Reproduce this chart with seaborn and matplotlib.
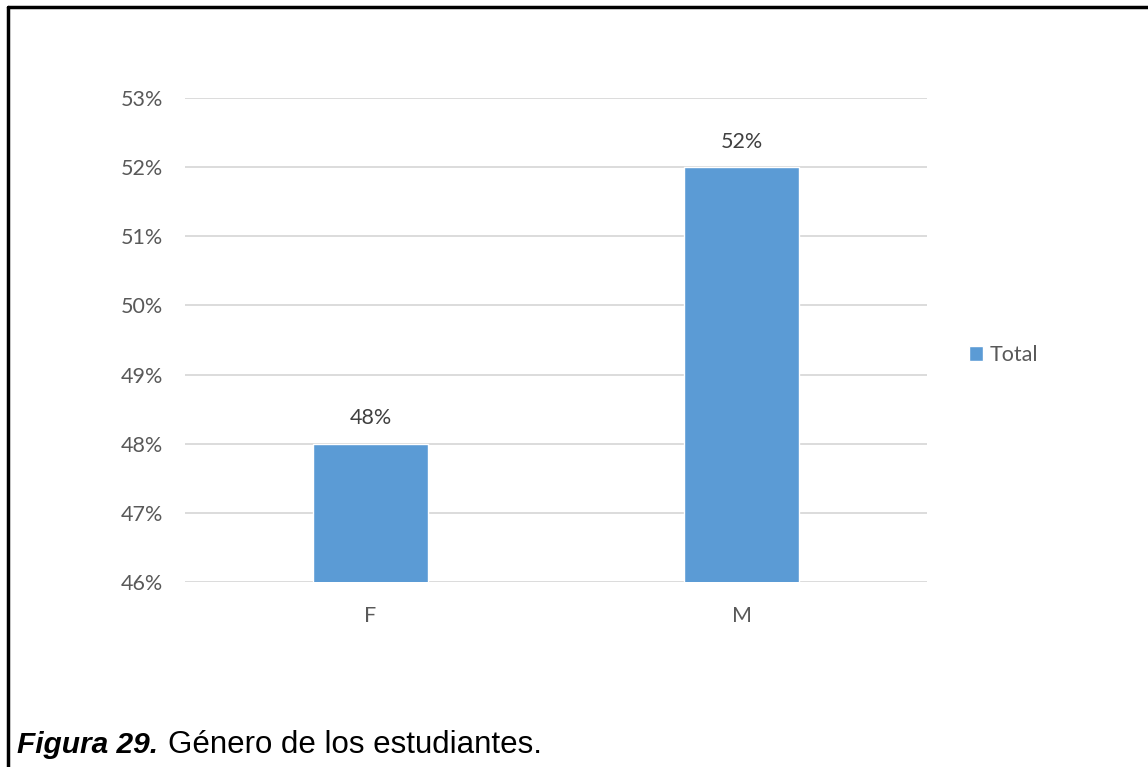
import matplotlib
matplotlib.use("Agg")
import matplotlib.pyplot as plt
import seaborn as sns
import pandas as pd
from matplotlib.lines import Line2D
from matplotlib.ticker import PercentFormatter

categories = ["F", "M"]
values = [0.48, 0.52]
labels = ["48%", "52%"]
series_name = "Total"
caption_bold = "Figura 29."
caption_text = "Género de los estudiantes."

sns.set_theme(style="white")
plt.rcParams['font.family'] = ['Lato', 'DejaVu Sans']

W, H = 1148, 767
fig = plt.figure(figsize=(W / 100, H / 100), dpi=100)
ax = fig.add_axes([185 / W, 1 - 582 / H, (927 - 185) / W, (582 - 98) / H])

df = pd.DataFrame({"cat": categories, "val": values})
sns.barplot(data=df, x="cat", y="val", color="#5B9BD5", width=0.31,
            saturation=1, label=series_name, ax=ax, zorder=3)

ax.set_ylim(0.46, 0.53)
ax.set_yticks([0.46, 0.47, 0.48, 0.49, 0.50, 0.51, 0.52, 0.53])
ax.yaxis.set_major_formatter(PercentFormatter(1.0, decimals=0))
ax.grid(axis="y", color="#D9D9D9", linewidth=1.3, zorder=0)
for s in ax.spines.values():
    s.set_visible(False)
ax.set_xlabel("")
ax.set_ylabel("")
ax.tick_params(axis="y", labelsize=15.5, colors="#595959", length=0, pad=16)
ax.tick_params(axis="x", labelsize=15.5, colors="#595959", length=0, pad=17)

for i, (v, lab) in enumerate(zip(values, labels)):
    ax.annotate(lab, (i, v), xytext=(0, 11), textcoords="offset points",
                ha="center", va="bottom", fontsize=15.5, color="#404040")

leg = ax.legend(loc="center left", bbox_to_anchor=(1.045, 0.469), frameon=False,
                fontsize=15.5, handlelength=0.65, handleheight=0.65, handletextpad=0.3,
                borderaxespad=0)
for t in leg.get_texts():
    t.set_color("#595959")

# frame lines
fig.add_artist(Line2D([8 / W, 8 / W], [0, 1 - 7 / H], transform=fig.transFigure,
                      color="black", lw=2.5))
fig.add_artist(Line2D([8 / W, 1], [1 - 7 / H, 1 - 7 / H], transform=fig.transFigure,
                      color="black", lw=2.5))

t1 = fig.text(17 / W, 1 - 753 / H, caption_bold, fontsize=21.5, fontweight="bold",
              fontstyle="italic", family=["Liberation Sans"], va="baseline", color="black")
fig.canvas.draw()
bb = t1.get_window_extent()
fig.text((bb.x1 + 10) / W, 1 - 753 / H, caption_text, fontsize=22.5,
         family=["Liberation Sans"], va="baseline", color="black")

fig.savefig("out.png", dpi=100)
